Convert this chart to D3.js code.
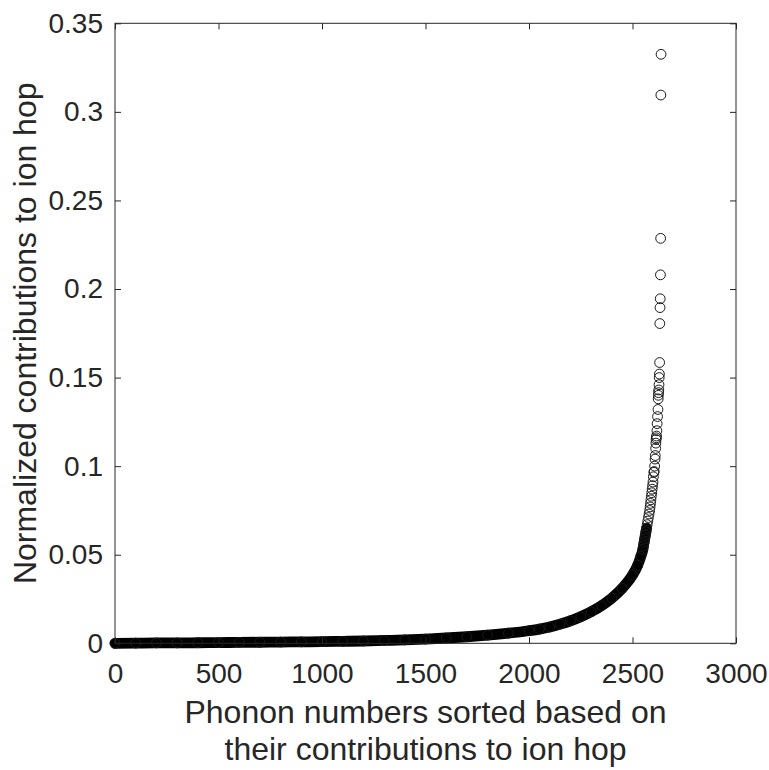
<!DOCTYPE html>
<html><head><meta charset="utf-8">
<script src="https://cdn.jsdelivr.net/npm/d3@7"></script>
<style>body{margin:0;background:#fff}svg{display:block}</style>
</head><body><svg id="c" width="769" height="770"></svg>
<script>
// Phonon index (sorted) and its normalized contribution
const phononIndex = [
  0,100,200,300,400,500,600,700,800,900,1000,1100,1200,1300,1400,1500,1600,1700,1800,1900,2000,
  2050,2100,2150,2200,2250,2300,2350,2400,2450,2500,2525,2540,
  2550,2553,2556,2559,2562,2565,2568,2571,2574,2577,2580,2583,2585,2587,2589,2591,2593,2595,2597,2599,
  2601,2603,2605,2607,2609,2610,2612,2613,2614,2615,2616,2618,2619,2621,2623,2624,2625,2626,2627,2628,
  2629,2630,2631,2632,2633,2634,2635,2636,2637,2638
];
const contribution = [
  0.0000,0.0001,0.0002,0.0002,0.0003,0.0004,0.0005,0.0006,0.0007,0.0008,0.0009,0.0011,0.0013,0.0016,0.0019,0.0024,0.0030,0.0037,0.0046,0.0057,0.0071,
  0.0080,0.0092,0.0108,0.0127,0.0150,0.0178,0.0212,0.0255,0.0310,0.0385,0.0440,0.0490,
  0.053,0.055,0.057,0.059,0.061,0.063,0.065,0.067,0.069,0.071,0.073,0.075,0.077,0.079,0.081,0.083,0.085,0.087,0.089,0.091,
  0.094,0.0965,0.097,0.100,0.104,0.106,0.110,0.113,0.115,0.116,0.117,0.120,0.124,0.128,0.132,0.138,0.140,0.1415,0.143,0.146,
  0.150,0.152,0.1585,0.1805,0.1895,0.1945,0.208,0.2286,0.3095,0.3325
];
const xTicks = [0,500,1000,1500,2000,2500,3000];
const yTicks = [0,0.05,0.1,0.15,0.2,0.25,0.3,0.35];
const yTickLabels = ["0","0.05","0.1","0.15","0.2","0.25","0.3","0.35"];
const xLabelLines = ["Phonon numbers sorted based on","their contributions to ion hop"];
const yLabel = "Normalized contributions to ion hop";

const FONT = "'Liberation Sans', Arial, Helvetica, sans-serif";
const INK = "#262626";
const svg = d3.select("#c");
const L = 115, R = 736, T = 23.3, B = 643.3;
const x = d3.scaleLinear().domain([0,3000]).range([L,R]);
const y = d3.scaleLinear().domain([0,0.35]).range([B,T]);

const pts = phononIndex.map((d,i)=>({i:d, v:contribution[i]}));

// dense overlapping markers form a solid band
const band = pts.filter(p=>p.v<=0.065);
svg.append("path")
  .datum(band)
  .attr("d", d3.line().x(p=>x(p.i)).y(p=>y(p.v)).curve(d3.curveMonotoneX))
  .attr("fill","none").attr("stroke","#000").attr("stroke-width",10.8)
  .attr("stroke-linecap","round").attr("stroke-linejoin","round");

svg.append("g").selectAll("circle").data(pts).join("circle")
  .attr("cx",p=>x(p.i)).attr("cy",p=>y(p.v)).attr("r",4.9)
  .attr("fill","none").attr("stroke","#1a1a1a").attr("stroke-width",1);

// axes
function style(g){
  g.select(".domain").remove();
  g.selectAll("line").attr("stroke",INK).attr("stroke-width",1);
  g.selectAll("text").attr("fill",INK).style("font-family",FONT).style("font-size","28px");
}
svg.append("g").attr("transform",`translate(0,${B})`)
  .call(d3.axisBottom(x).tickValues(xTicks).tickSize(-6).tickPadding(20).tickFormat(d3.format("d")))
  .call(style);
svg.append("g").attr("transform",`translate(0,${T})`)
  .call(d3.axisTop(x).tickValues(xTicks).tickSize(-6).tickFormat(""))
  .call(style);
svg.append("g").attr("transform",`translate(${L},0)`)
  .call(d3.axisLeft(y).tickValues(yTicks).tickSize(-6).tickPadding(12).tickFormat((d,i)=>yTickLabels[i]))
  .call(style);
svg.append("g").attr("transform",`translate(${R},0)`)
  .call(d3.axisRight(y).tickValues(yTicks).tickSize(-6).tickFormat(""))
  .call(style);
svg.append("rect").attr("x",L).attr("y",T).attr("width",R-L).attr("height",B-T)
  .attr("fill","none").attr("stroke",INK).attr("stroke-width",1);

// labels
svg.append("g").selectAll("text").data(xLabelLines).join("text")
  .attr("x",(L+R)/2).attr("y",(d,i)=>723+i*37)
  .attr("text-anchor","middle").attr("fill",INK)
  .style("font-family",FONT).style("font-size","32px").text(d=>d);
svg.append("text")
  .attr("transform",`translate(36,${(T+B)/2}) rotate(-90)`)
  .attr("text-anchor","middle").attr("fill",INK)
  .style("font-family",FONT).style("font-size","32px").text(yLabel);
</script></body></html>
